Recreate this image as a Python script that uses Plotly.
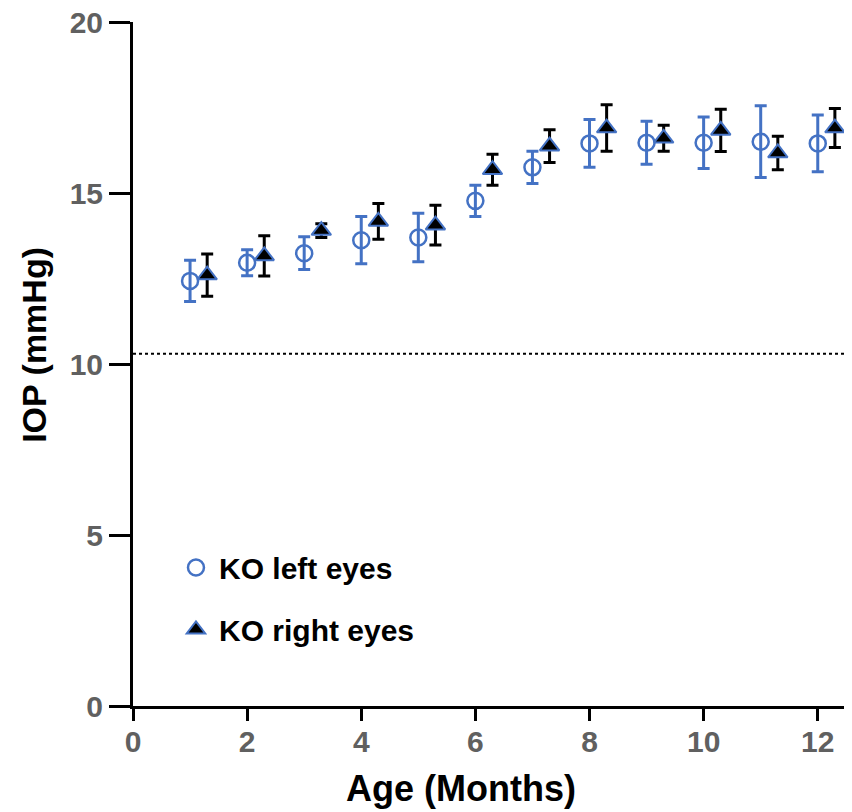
import plotly.graph_objects as go

# ---- data ----
months = [1, 2, 3, 4, 5, 6, 7, 8, 9, 10, 11, 12]
left_iop = [12.43, 12.96, 13.24, 13.62, 13.70, 14.77, 15.75, 16.45, 16.47, 16.47, 16.50, 16.45]
left_err = [0.60, 0.38, 0.48, 0.69, 0.71, 0.46, 0.47, 0.70, 0.63, 0.75, 1.05, 0.83]
right_iop = [12.60, 13.16, 13.90, 14.17, 14.06, 15.68, 16.37, 16.90, 16.60, 16.83, 16.17, 16.90]
right_err = [0.62, 0.59, 0.20, 0.52, 0.58, 0.45, 0.48, 0.68, 0.38, 0.62, 0.49, 0.57]
reference_iop = 10.3
x_ticks = [0, 2, 4, 6, 8, 10, 12]
y_ticks = [0, 5, 10, 15, 20]
x_title = "Age (Months)"
y_title = "IOP (mmHg)"

BLUE = "#4472C4"
GREY = "#606060"
FONT = "Liberation Sans"
dodge = 0.3

fig = go.Figure()
fig.add_trace(go.Scatter(
    x=months, y=left_iop, mode="markers", name="KO left eyes",
    legendgroup="a",
    marker=dict(symbol="circle-open", size=16, color=BLUE, line=dict(width=2.5, color=BLUE)),
    error_y=dict(type="data", array=left_err, color=BLUE, thickness=3, width=6),
))
fig.add_trace(go.Scatter(
    x=[m + dodge for m in months], y=right_iop, mode="markers", name="KO right eyes",
    legendgroup="b",
    marker=dict(symbol="triangle-up", size=17, color="black", line=dict(width=2, color=BLUE)),
    error_y=dict(type="data", array=right_err, color="black", thickness=3, width=6),
))

fig.add_shape(type="line", xref="paper", x0=0, x1=1, yref="y", y0=reference_iop, y1=reference_iop,
              line=dict(color="black", width=2, dash="dot"), layer="below")

fig.add_annotation(text=x_title, xref="paper", yref="paper", x=0.456, y=-0.12,
                   xanchor="center", yanchor="middle", showarrow=False,
                   font=dict(family=FONT, size=36, color="black", weight="bold"))
fig.add_annotation(text=y_title, xref="paper", yref="paper", x=-0.1377, y=0.528,
                   xanchor="center", yanchor="middle", showarrow=False, textangle=-90,
                   font=dict(family=FONT, size=34, color="black", weight="bold"))

fig.update_layout(
    width=844, height=804,
    margin=dict(l=125, r=0, t=14, b=106),
    plot_bgcolor="white", paper_bgcolor="white",
    font=dict(family=FONT),
    showlegend=True,
    legend=dict(x=0.0556, y=0.2406, xanchor="left", yanchor="top",
                font=dict(family=FONT, size=30, color="black", weight="bold"),
                itemwidth=36, tracegroupgap=20, bgcolor="rgba(0,0,0,0)"),
    xaxis=dict(range=[0, 12.6], tickvals=x_ticks, ticks="outside", ticklen=12, tickwidth=3,
               tickcolor="black", showline=True, linewidth=3, linecolor="black",
               showgrid=False, zeroline=False, automargin=False,
               ticklabelstandoff=-5, ticklabeloverflow="allow",
               tickfont=dict(family=FONT, size=30, color=GREY, weight="bold")),
    yaxis=dict(range=[0, 20], tickvals=y_ticks, ticks="outside", ticklen=21, tickwidth=3,
               tickcolor="black", showline=True, linewidth=3, linecolor="black",
               showgrid=False, zeroline=False, automargin=False,
               ticklabeloverflow="allow",
               tickfont=dict(family=FONT, size=30, color=GREY, weight="bold")),
)

fig.write_html("out.html")
